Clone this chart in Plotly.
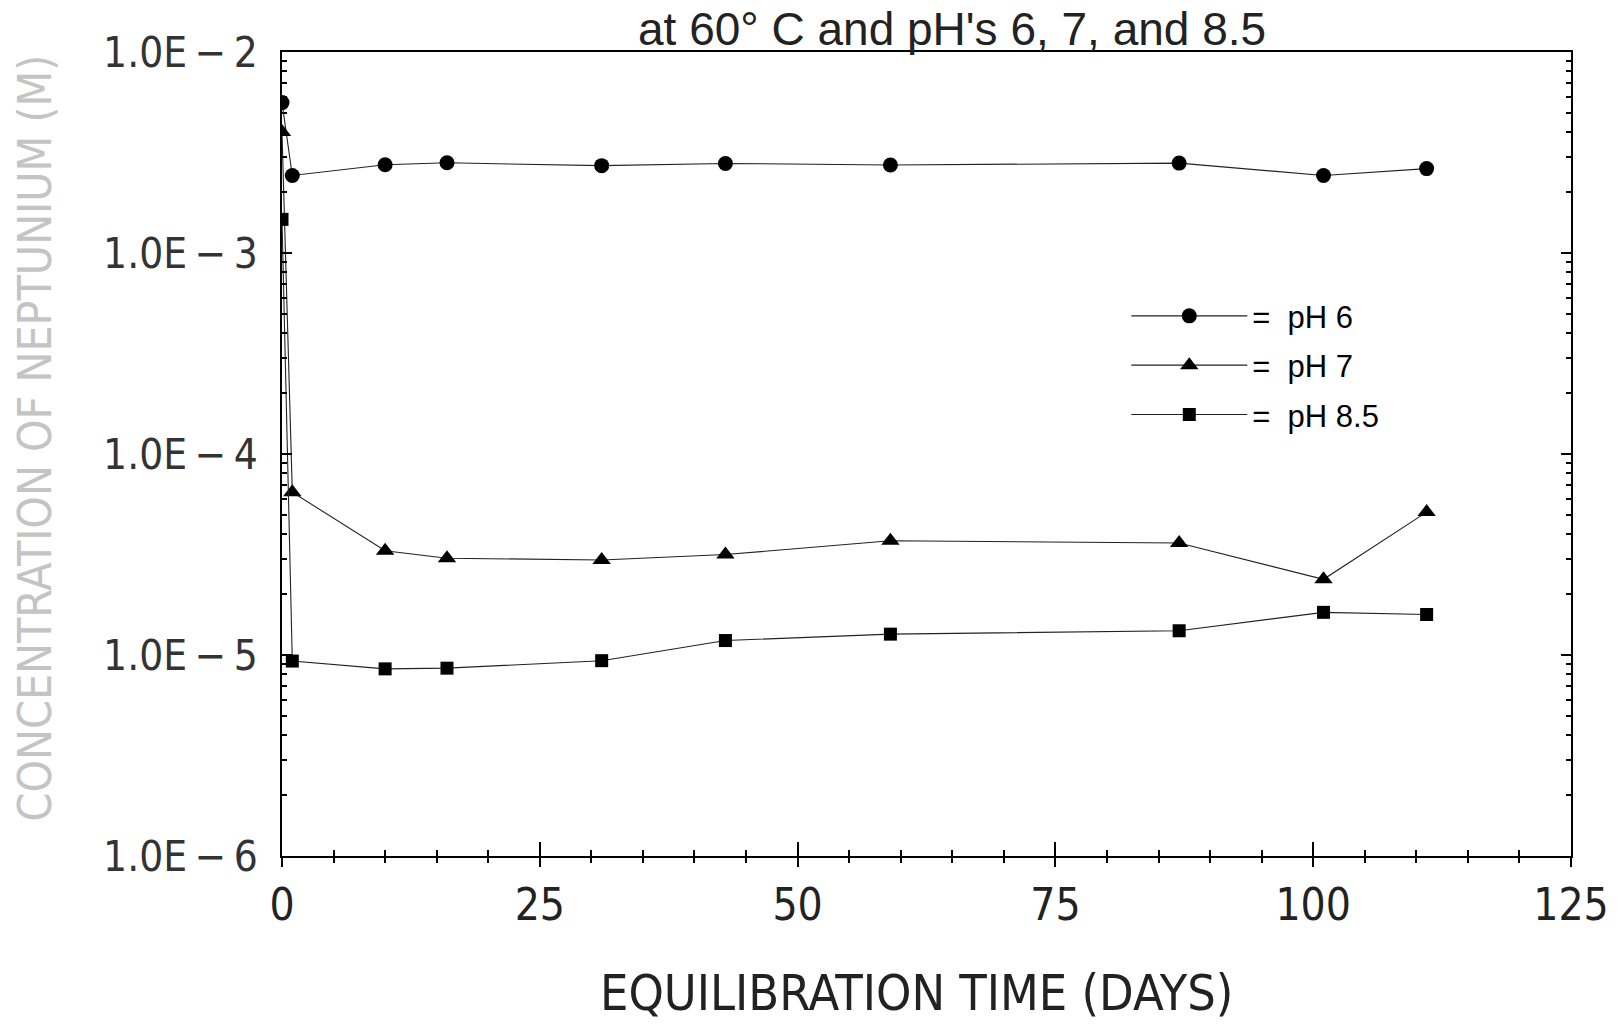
import plotly.graph_objects as go

# ---- data ----
days = [0, 1, 10, 16, 31, 43, 59, 87, 101, 111]
conc_ph6 = [5.6e-3, 2.43e-3, 2.75e-3, 2.81e-3, 2.72e-3, 2.79e-3, 2.74e-3, 2.80e-3, 2.43e-3, 2.63e-3]
conc_ph7 = [4.0e-3, 6.46e-5, 3.30e-5, 3.03e-5, 2.97e-5, 3.16e-5, 3.70e-5, 3.61e-5, 2.38e-5, 5.14e-5]
conc_ph85 = [1.47e-3, 9.33e-6, 8.53e-6, 8.60e-6, 9.37e-6, 1.18e-5, 1.27e-5, 1.32e-5, 1.63e-5, 1.59e-5]

series_names = ["=  pH 6", "=  pH 7", "=  pH 8.5"]
series_symbols = ["circle", "triangle-up", "square"]

x_ticks = [0, 25, 50, 75, 100, 125]
y_tickvals = [1e-6, 1e-5, 1e-4, 1e-3, 1e-2]
y_ticktext = ["1.0E\u2009\u2212\u20096", "1.0E\u2009\u2212\u20095", "1.0E\u2009\u2212\u20094",
              "1.0E\u2009\u2212\u20093", "1.0E\u2009\u2212\u20092"]
y_minor = [m * 10.0 ** e for e in range(-6, -2) for m in range(2, 10)]

title_text = "at 60\u00b0 C and pH's 6, 7, and 8.5"
x_title = "EQUILIBRATION TIME (DAYS)"
y_title = "CONCENTRATION OF NEPTUNIUM (M)"

NARROW = "Liberation Sans Narrow, DejaVu Sans Condensed, Liberation Sans, sans-serif"
REG = "Liberation Sans, Arial, sans-serif"

fig = go.Figure()
sizes = [15, 16, 13]
for i, (conc, name, sym, sz) in enumerate(zip([conc_ph6, conc_ph7, conc_ph85],
                                              series_names, series_symbols, sizes)):
    fig.add_trace(go.Scatter(
        x=days, y=conc, name=name, mode="lines+markers", legendgroup=f"g{i}",
        line=dict(color="#222", width=1.1),
        marker=dict(symbol=sym, size=sz, color="black"),
    ))

# invisible trace carrying the inner tick marks of the x axis
fig.add_trace(go.Scatter(x=[0], y=[1e-6], xaxis="x2", mode="markers",
                         marker=dict(opacity=0), showlegend=False, hoverinfo="skip"))

fig.update_layout(
    width=1621, height=1027,
    margin=dict(l=282, r=38, t=52, b=171),
    paper_bgcolor="white", plot_bgcolor="white",
    showlegend=True,
    legend=dict(x=0.655, y=0.705, xanchor="left", yanchor="top",
                font=dict(family=REG, size=31, color="black"),
                bgcolor="rgba(0,0,0,0)", tracegroupgap=6, itemwidth=116),
    xaxis=dict(range=[0, 125], tickvals=x_ticks, ticks="outside", ticklen=9,
               tickwidth=1.5, tickcolor="black",
               minor=dict(dtick=5, ticks="outside", ticklen=5, tickcolor="black"),
               showline=True, linecolor="black", linewidth=1.5, mirror=True,
               showgrid=False, zeroline=False,
               tickfont=dict(family=NARROW, size=44, color="#222"),
               ticklabelstandoff=0),
    xaxis2=dict(range=[0, 125], overlaying="x", anchor="y", side="bottom",
                tickvals=x_ticks, ticks="inside", ticklen=14, tickwidth=1.5,
                tickcolor="black",
                minor=dict(dtick=5, ticks="inside", ticklen=6, tickcolor="black"),
                showticklabels=False, showline=False, showgrid=False, zeroline=False),
    yaxis=dict(type="log", range=[-6, -2], tickvals=y_tickvals, ticktext=y_ticktext,
               ticks="inside", ticklen=10, tickwidth=1.5, tickcolor="black",
               minor=dict(tickvals=y_minor, ticks="inside", ticklen=5, tickcolor="black"),
               showline=True, linecolor="black", linewidth=1.5, mirror="ticks",
               showgrid=False, zeroline=False,
               tickfont=dict(family=NARROW, size=42, color="#333"),
               ticklabelstandoff=14),
    annotations=[
        dict(text=title_text, xref="paper", yref="paper", x=0.52, y=1.0635,
             xanchor="center", yanchor="top", showarrow=False,
             font=dict(family=REG, size=46, color="#222")),
        dict(text=x_title, xref="paper", yref="paper", x=0.492, y=-0.17,
             xanchor="center", yanchor="middle", showarrow=False,
             font=dict(family=NARROW, size=50, color="#222")),
        dict(text=y_title, xref="paper", yref="paper", x=-0.192, y=0.52,
             xanchor="center", yanchor="middle", textangle=-90, showarrow=False,
             font=dict(family=NARROW, size=46, color="#c4c4c4")),
    ],
)

fig.write_html("out.html")
